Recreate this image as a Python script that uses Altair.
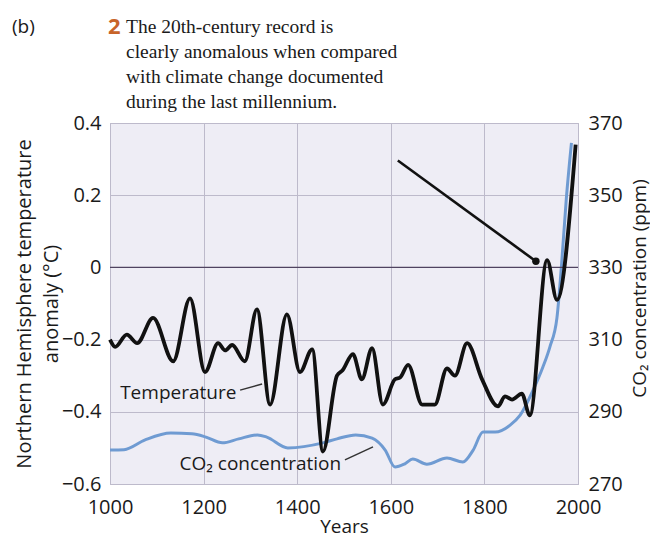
import altair as alt
import pandas as pd

# ---- data ----
temp_years = [1000, 1011, 1036, 1058, 1092, 1135, 1171, 1203, 1231, 1246, 1261, 1288,
              1314, 1342, 1378, 1406, 1432, 1455, 1485, 1497, 1519, 1538, 1560, 1583,
              1609, 1620, 1637, 1667, 1694, 1720, 1737, 1763, 1795, 1829, 1844, 1859,
              1880, 1897, 1934, 1955, 1995]
temp_values = [-0.20, -0.22, -0.186, -0.21, -0.14, -0.26, -0.086, -0.29, -0.21, -0.23, -0.215, -0.26,
               -0.116, -0.38, -0.13, -0.29, -0.227, -0.51, -0.30, -0.285, -0.24, -0.31, -0.224, -0.38,
               -0.31, -0.305, -0.27, -0.38, -0.38, -0.28, -0.30, -0.21, -0.31, -0.385, -0.357, -0.366,
               -0.35, -0.41, 0.02, -0.09, 0.34]

co2_years = [1000, 1030, 1075, 1130, 1175, 1205, 1240, 1275, 1315, 1335, 1380, 1455, 1485,
             1525, 1560, 1588, 1609, 1630, 1647, 1677, 1720, 1754, 1776, 1797, 1823, 1855,
             1876, 1904, 1925, 1940, 1955, 1965, 1975, 1986]
co2_values = [279.4, 279.5, 282.2, 284.1, 283.9, 283.0, 281.4, 282.5, 283.6, 283.0, 280.0, 281.4, 282.5,
              283.6, 282.7, 279.4, 274.7, 275.6, 276.9, 275.5, 277.2, 276.1, 279.4, 284.4, 284.4, 286.3,
              289.0, 296.0, 302.4, 308.0, 316.0, 331.0, 349.0, 364.5]

x_ticks = [1000, 1200, 1400, 1600, 1800, 2000]
temp_ticks = [-0.6, -0.4, -0.2, 0, 0.2, 0.4]
co2_ticks = [270, 290, 310, 330, 350, 370]

note_lines = ["The 20th-century record is",
              "clearly anomalous when compared",
              "with climate change documented",
              "during the last millennium."]

# annotation pointer (year, temperature)
pointer = pd.DataFrame({"x": [1615], "y": [0.296], "x2": [1910], "y2": [0.017]})
pointer_dot = pd.DataFrame({"x": [1910], "y": [0.017]})

labels = pd.DataFrame({"x": [1270, 1494], "y": [-0.347, -0.545],
                       "t": ["Temperature", "CO₂ concentration"]})
leaders = pd.DataFrame({"x": [1278, 1502], "y": [-0.34, -0.533],
                        "x2": [1325, 1562], "y2": [-0.323, -0.497]})

temp_df = pd.DataFrame({"year": temp_years, "temp": temp_values})
co2_df = pd.DataFrame({"year": co2_years, "co2": co2_values})
one = pd.DataFrame({"k": [0]})

FONT = "Open Sans"
xscale = alt.Scale(domain=[1000, 2000], nice=False, zero=False)
tscale = alt.Scale(domain=[-0.6, 0.4], nice=False, zero=False)
cscale = alt.Scale(domain=[270, 370], nice=False, zero=False)

xaxis = alt.Axis(values=x_ticks, format="d", title="Years", grid=True, labelFlush=False,
                 labelOverlap=False, labelPadding=13, titlePadding=0, titleFontSize=19)
taxis = alt.Axis(values=temp_ticks, grid=True, labelPadding=9, labelOverlap=False,
                 labelExpr="datum.value == 0 ? '0' : format(datum.value, '.1f')",
                 title=["Northern Hemisphere temperature", "anomaly (°C)"],
                 titleLineHeight=27, titleX=-76)

temp_line = alt.Chart(temp_df).mark_line(
    color="#111111", strokeWidth=3.8, interpolate="monotone"
).encode(
    x=alt.X("year:Q", scale=xscale, axis=xaxis),
    y=alt.Y("temp:Q", scale=tscale, axis=taxis),
)

zero_rule = alt.Chart(one).mark_rule(color="#4f4360", strokeWidth=1.4).encode(
    y=alt.datum(0, scale=tscale, axis=taxis)
)

ptr = alt.Chart(pointer).mark_rule(color="#111111", strokeWidth=2.6).encode(
    x=alt.X("x:Q", scale=xscale, axis=xaxis), x2="x2:Q",
    y=alt.Y("y:Q", scale=tscale, axis=taxis), y2="y2:Q",
)
dot = alt.Chart(pointer_dot).mark_circle(color="#111111", size=55, opacity=1).encode(
    x=alt.X("x:Q", scale=xscale, axis=xaxis), y=alt.Y("y:Q", scale=tscale, axis=taxis)
)

lbl = alt.Chart(labels).mark_text(font=FONT, fontSize=19, align="right", baseline="middle",
                                  color="#1a1a1a").encode(
    x=alt.X("x:Q", scale=xscale, axis=xaxis), y=alt.Y("y:Q", scale=tscale, axis=taxis),
    text="t:N"
)
ldr = alt.Chart(leaders).mark_rule(color="#333333", strokeWidth=1.5).encode(
    x=alt.X("x:Q", scale=xscale, axis=xaxis), x2="x2:Q",
    y=alt.Y("y:Q", scale=tscale, axis=taxis), y2="y2:Q",
)

panel_b = alt.Chart(one).mark_text(font=FONT, fontSize=19, align="left", baseline="alphabetic",
                                   color="#1a1a1a").encode(
    x=alt.value(-98), y=alt.value(-90), text=alt.value("(b)")
)
num2 = alt.Chart(one).mark_text(font=FONT, fontSize=22, fontWeight="bold", align="left",
                                baseline="alphabetic", color="#c8642a").encode(
    x=alt.value(-2), y=alt.value(-89), text=alt.value("2")
)
note = alt.Chart(one).mark_text(font="Liberation Serif", fontSize=19.5, align="left",
                                baseline="alphabetic", lineHeight=25, color="#1a1a1a",
                                text=note_lines).encode(
    x=alt.value(16), y=alt.value(-90)
)

co2_line = alt.Chart(co2_df).mark_line(
    color="#6f9bd2", strokeWidth=3, interpolate="monotone"
).encode(
    x=alt.X("year:Q", scale=xscale, axis=xaxis),
    y=alt.Y("co2:Q", scale=cscale,
            axis=alt.Axis(orient="right", values=co2_ticks, grid=False, labelPadding=10,
                          labelOverlap=False,
                          title="CO₂ concentration (ppm)", titleAngle=-90, titleFontSize=19,
                          titleBaseline="middle", titleX=61, titleY=165)),
)

temp_layer = alt.layer(zero_rule, temp_line, ptr, dot, ldr, lbl, panel_b, num2, note)

chart = alt.layer(co2_line, temp_layer).resolve_scale(y="independent").properties(
    width=468, height=361,
    autosize=alt.AutoSizeParams(type="none"),
    padding={"left": 102, "top": 115, "right": 72, "bottom": 55},
).configure_view(
    fill="#eeedf5", stroke="#b3b0c2", strokeWidth=1
).configure_axis(
    labelFont=FONT, labelFontSize=20, labelColor="#1a1a1a",
    titleFont=FONT, titleFontSize=20, titleFontWeight="normal", titleColor="#1a1a1a",
    ticks=False, domain=False, gridColor="#bdbacb", gridWidth=1
)

chart.save("out.html", embed_options={"renderer": "svg", "actions": False})
